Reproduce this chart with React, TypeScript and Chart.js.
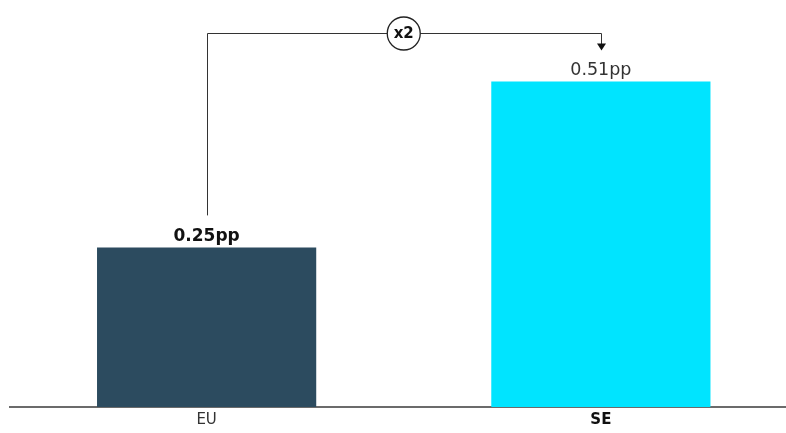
import React, { useEffect, useRef } from "react";
import { Chart, registerables } from "chart.js";

Chart.register(...registerables);

const categories = ["EU", "SE"];
const values = [0.25, 0.51];
const valueLabels = ["0.25pp", "0.51pp"];
const barColors = ["#2C4B5F", "#00E4FF"];
const boldLabel = [true, false];
const boldCategory = [false, true];
const ratioText = "x2";
const bracketLevel = 0.586;

const FONT = "'DejaVu Sans', sans-serif";

const overlayPlugin = {
  id: "overlay",
  afterDatasetsDraw(chart: any) {
    const ctx = chart.ctx;
    const meta = chart.getDatasetMeta(0);
    const yScale = chart.scales.y;
    ctx.save();
    // value labels
    meta.data.forEach((bar: any, i: number) => {
      ctx.font = `${boldLabel[i] ? "bold 17px" : "17.5px"} ${FONT}`;
      ctx.fillStyle = boldLabel[i] ? "#111111" : "#333333";
      ctx.textAlign = "center";
      ctx.textBaseline = "alphabetic";
      ctx.fillText(valueLabels[i], bar.x, bar.y - 6);
    });
    // bracket
    const a = meta.data[0];
    const b = meta.data[1];
    const yTop = Math.round(yScale.getPixelForValue(bracketLevel)) + 0.5;
    const xa = Math.round(a.x) + 0.5;
    const xb = Math.round(b.x) + 0.5;
    const startY = a.y - 32;
    const arrowTip = b.y - 31;
    ctx.strokeStyle = "#333333";
    ctx.lineWidth = 1;
    ctx.beginPath();
    ctx.moveTo(xa, startY);
    ctx.lineTo(xa, yTop);
    ctx.lineTo(xb, yTop);
    ctx.lineTo(xb, arrowTip - 6);
    ctx.stroke();
    ctx.fillStyle = "#111111";
    ctx.beginPath();
    ctx.moveTo(xb - 4.5, arrowTip - 7);
    ctx.lineTo(xb + 4.5, arrowTip - 7);
    ctx.lineTo(xb, arrowTip);
    ctx.closePath();
    ctx.fill();
    // circle with ratio
    const cx = (a.x + b.x) / 2;
    ctx.beginPath();
    ctx.arc(cx, yTop, 16.5, 0, Math.PI * 2);
    ctx.fillStyle = "#ffffff";
    ctx.fill();
    ctx.lineWidth = 1.3;
    ctx.strokeStyle = "#222222";
    ctx.stroke();
    ctx.fillStyle = "#111111";
    ctx.font = `bold 15px ${FONT}`;
    ctx.textAlign = "center";
    ctx.textBaseline = "middle";
    ctx.fillText(ratioText, cx, yTop + 1);
    ctx.restore();
  },
};

export default function App() {
  const ref = useRef<HTMLCanvasElement>(null);
  useEffect(() => {
    document.body.style.marginRight = "0px";
    document.documentElement.style.overflow = "hidden";
    if (!ref.current) return;
    const chart = new Chart(ref.current, {
      type: "bar",
      data: {
        labels: categories,
        datasets: [
          {
            data: values,
            backgroundColor: barColors,
            borderWidth: 0,
            barPercentage: 0.556,
            categoryPercentage: 1,
          },
        ],
      },
      options: {
        animation: false,
        responsive: true,
        maintainAspectRatio: false,
        layout: { padding: { left: 1.5, right: 0, top: 0, bottom: 0 } },
        plugins: {
          legend: { display: false },
          tooltip: { enabled: false },
        },
        scales: {
          x: {
            grid: { display: false, drawTicks: false },
            border: { display: true, color: "#6B6B6B", width: 2 },
            ticks: {
              padding: 4,
              color: (c: any) => (boldCategory[c.index] ? "#111111" : "#333333"),
              font: (c: any) => ({
                family: FONT,
                size: 15,
                weight: boldCategory[c.index] ? "bold" : "normal",
              }),
            },
          },
          y: {
            display: false,
            min: 0,
            max: 0.625,
          },
        },
      },
      plugins: [overlayPlugin],
    });
    return () => chart.destroy();
  }, []);
  return (
    <div
      style={{
        width: 778,
        height: 425,
        marginBottom: -8,
        overflow: "hidden",
        position: "relative",
      }}
    >
      <div style={{ width: 790, height: 425, position: "absolute", left: 0, top: 0 }}>
        <canvas ref={ref} />
      </div>
    </div>
  );
}
